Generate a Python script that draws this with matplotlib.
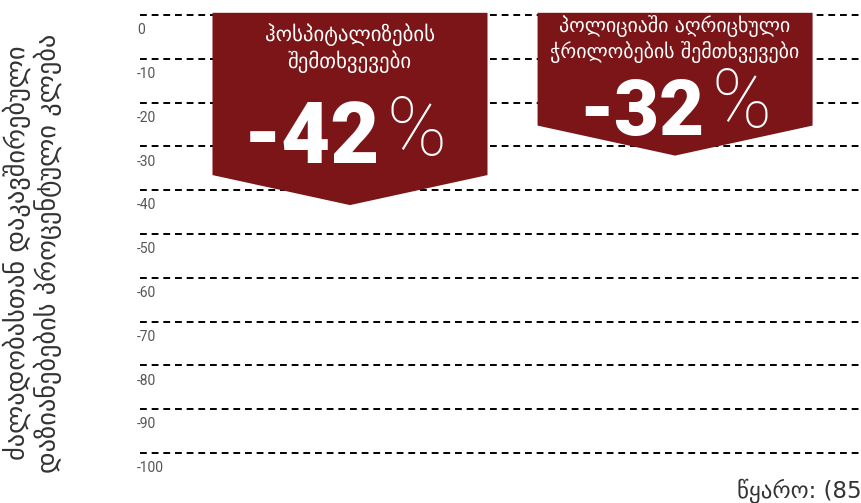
import matplotlib
matplotlib.use('Agg')
import matplotlib.pyplot as plt
import matplotlib.transforms as mtransforms
from matplotlib.patches import Polygon

# data
categories = ['ჰოსპიტალიზების\nშემთხვევები', 'პოლიციაში აღრიცხული\nჭრილობების შემთხვევები']
pct_labels = ['-42', '-32']
tips = [-43.4, -32.1]          # bottom point of each arrow
y_ticks = [0, -10, -20, -30, -40, -50, -60, -70, -80, -90, -100]
y_label = 'ძალადობასთან დაკავშირებული\nდაზიანებების პროცენტული კლება'
source = 'წყარო: (85)'

# layout (pixels from top of figure)
title_y_px = [48.5, 39]
title_size = [15, 14.3]
num_base_px = [163, 135]
num_size = [61, 56]

red = '#7B1517'
W, H = 861, 503

fig = plt.figure(figsize=(W / 100, H / 100), dpi=100)
ax = fig.add_axes([140 / W, 43 / H, 1 - 140 / W, 450 / H])
ax.set_xlim(-0.646, 1.572)
ax.set_ylim(-101.6, 1.14)
ax.axis('off')

for t in y_ticks:
    ax.axhline(t, color='black', lw=1.4, linestyle=(0, (3.5, 2.5)), zorder=1)
    ax.annotate(str(t), xy=(0, t), xycoords=('axes fraction', 'data'),
                xytext=(-2, -11), textcoords='offset points',
                ha='left', va='center', fontsize=10, color='#555555',
                family='Roboto', annotation_clip=False)

width = 0.846
depth = 6.85
top = 0.5
yfig = mtransforms.blended_transform_factory(ax.transData, fig.transFigure)
for i, (cat, tip) in enumerate(zip(categories, tips)):
    l, r = i - width / 2, i + width / 2
    poly = Polygon([(l, top), (r, top), (r, tip + depth), (i, tip), (l, tip + depth)],
                   closed=True, facecolor=red, edgecolor='none', zorder=2)
    ax.add_patch(poly)
    ax.text(i, 1 - title_y_px[i] / H, cat, transform=yfig, ha='center', va='center',
            color='white', fontsize=title_size[i], family='DejaVu Sans',
            linespacing=1.25, zorder=3)
    ax.annotate(pct_labels[i], xy=(i, 1 - num_base_px[i] / H), xycoords=yfig,
                xytext=(21.5, 0), textcoords='offset points', ha='right', va='baseline',
                color='white', fontsize=num_size[i], family='Roboto', fontweight='black',
                zorder=3)
    ax.annotate('%', xy=(i, 1 - (num_base_px[i] - 8.5) / H), xycoords=yfig,
                xytext=(26, 0), textcoords='offset points', ha='left', va='baseline',
                color='white', fontsize=58, family='Roboto', fontweight='light',
                zorder=3)

fig.text(32 / W, 1 - 253 / H, y_label, rotation=90, ha='center', va='center',
         multialignment='center', fontsize=19, color='#333333', linespacing=1.1,
         family='DejaVu Sans')
fig.text(737 / W, 1 - 491 / H, source, ha='left', va='center', fontsize=16.5,
         color='#333333', family='DejaVu Sans')

fig.savefig('out.png', dpi=100)
